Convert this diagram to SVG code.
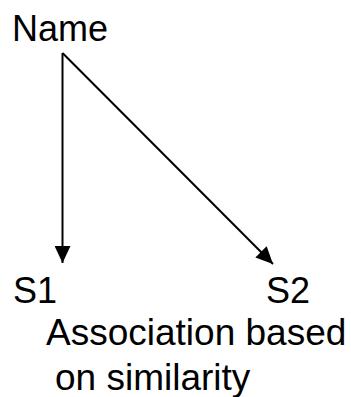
<svg xmlns="http://www.w3.org/2000/svg" width="351" height="397" viewBox="0 0 351 397">
<style>
text { font-family: "Liberation Sans", Arial, sans-serif; font-size: 36px; fill: #000; }
.caption { font-size: 37px; }
.edge { stroke: #000; stroke-width: 2; fill: none; }
</style>
<defs>
<marker id="arrow" markerUnits="userSpaceOnUse" markerWidth="17" markerHeight="16" refX="17" refY="8" orient="auto">
<path d="M0,0 L17,8 L0,16 z" fill="#000"/>
</marker>
</defs>
<rect width="351" height="397" fill="#fff"/>
<g id="connectors">
<line class="edge" x1="62.5" y1="53" x2="62.5" y2="263" marker-end="url(#arrow)"/>
<line class="edge" x1="62.5" y1="53" x2="273" y2="264" marker-end="url(#arrow)"/>
</g>
<g id="name"><text x="12" y="41">Name</text></g>
<g id="s1"><text x="13" y="303">S1</text></g>
<g id="s2"><text x="266" y="303">S2</text></g>
<g id="caption">
<text class="caption" x="46" y="345">Association based</text>
<text class="caption" x="55" y="390">on similarity</text>
</g>
</svg>
